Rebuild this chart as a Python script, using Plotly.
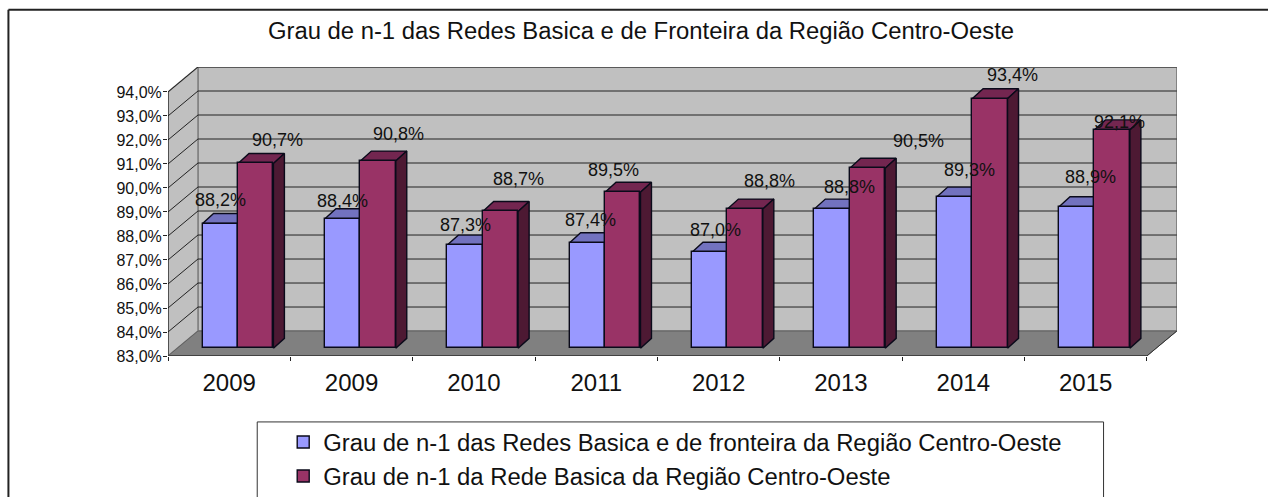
import plotly.graph_objects as go

categories = ["2009", "2009", "2010", "2011", "2012", "2013", "2014", "2015"]
series_a_name = "Grau de n-1 das Redes Basica e de fronteira da Região Centro-Oeste"
series_b_name = "Grau de n-1 da Rede Basica da Região Centro-Oeste"
series_a = [88.2, 88.4, 87.3, 87.4, 87.0, 88.8, 89.3, 88.9]
series_b = [90.7, 90.8, 88.7, 89.5, 88.8, 90.5, 93.4, 92.1]
y_ticks = list(range(83, 95))
y_tick_labels = [f"{v},0%" for v in y_ticks]

W, H = 1268, 497
PX_L, PX_B, PX_R, PX_T = 167.7, 356.0, 1177.5, 66.7
CAT_PX = (1147.3 - 167.7) / 8
PCT_PX = (356.0 - 91.7) / 11
DEPTH_X = 30.0 / CAT_PX
DEPTH_Y = 25.0 / PCT_PX
BAR_W = 0.2895
BAR_A_L = 0.2826
BAR_DX = 11.0 / CAT_PX
BAR_DY = 10.0 / PCT_PX
BASE_LIFT = 7.7 / PCT_PX
X0, X1, Y0, Y1 = 0, len(categories), y_ticks[0], y_ticks[-1]
XR = [0, (PX_R - PX_L) / CAT_PX]
YR = [Y0, Y0 + (PX_B - PX_T) / PCT_PX]

def px(v):
    return (v - PX_L) / (PX_R - PX_L)

def py(v):
    return (PX_B - v) / (PX_B - PX_T)

WALL = "#C0C0C0"; FLOOR = "#808080"; EDGE = "#808080"; GRID = "#222222"
A_FRONT, A_TOP = "#9999FF", "#7272BF"
B_FRONT, B_TOP, B_SIDE = "#993366", "#732650", "#4D1933"
OUT = "#0A0A1A"
FONT = "Liberation Sans, Arial, sans-serif"
TXT = "#111111"

fig = go.Figure()

def poly(xs, ys, fill, line=None, lw=1):
    fig.add_trace(go.Scatter(x=xs, y=ys, mode="lines", fill="toself", fillcolor=fill,
                             line=dict(color=line or fill, width=lw),
                             hoverinfo="skip", showlegend=False, xaxis="x", yaxis="y"))

def seg(xs, ys, color, lw=1):
    fig.add_trace(go.Scatter(x=xs, y=ys, mode="lines", line=dict(color=color, width=lw),
                             hoverinfo="skip", showlegend=False, xaxis="x", yaxis="y"))

# walls and floor
poly([DEPTH_X, X1 + DEPTH_X, X1 + DEPTH_X, DEPTH_X, DEPTH_X],
     [Y0 + DEPTH_Y, Y0 + DEPTH_Y, Y1 + DEPTH_Y, Y1 + DEPTH_Y, Y0 + DEPTH_Y], WALL, EDGE, 1.5)
poly([0, DEPTH_X, DEPTH_X, 0, 0], [Y0, Y0 + DEPTH_Y, Y1 + DEPTH_Y, Y1, Y0], WALL, EDGE, 1.5)
poly([0, X1, X1 + DEPTH_X, DEPTH_X, 0], [Y0, Y0, Y0 + DEPTH_Y, Y0 + DEPTH_Y, Y0], FLOOR, "#606060", 1)

# gridlines
for v in y_ticks[1:]:
    seg([0, DEPTH_X, X1 + DEPTH_X], [v, v + DEPTH_Y, v + DEPTH_Y], GRID, 1)
seg([X1, X1 + DEPTH_X], [Y0, Y0 + DEPTH_Y], "#333333", 1)
seg([0, 0], [Y0, Y1], "#111111", 1)
seg([0, X1], [Y0, Y0], "#333333", 1.5)

# depth faces of the bars (drawn on the lower axes pair)
base = Y0 + BASE_LIFT
for i, (a, b) in enumerate(zip(series_a, series_b)):
    ax = i + BAR_A_L
    bx = ax + BAR_W
    ex = bx + BAR_W
    ta, tb = a + BASE_LIFT, b + BASE_LIFT
    poly([ax, bx, bx + BAR_DX, ax + BAR_DX, ax], [ta, ta, ta + BAR_DY, ta + BAR_DY, ta], A_TOP, OUT, 1.4)
    poly([bx, ex, ex + BAR_DX, bx + BAR_DX, bx], [tb, tb, tb + BAR_DY, tb + BAR_DY, tb], B_TOP, OUT, 1.4)
    poly([ex, ex + BAR_DX, ex + BAR_DX, ex, ex], [base, base + BAR_DY, tb + BAR_DY, tb, base], B_SIDE, OUT, 1.4)

# front faces: true bars on an overlaying axes pair
xa = [i + BAR_A_L + BAR_W / 2 for i in range(len(categories))]
xb = [x + BAR_W for x in xa]
fig.add_trace(go.Bar(x=xa, y=[v - Y0 for v in series_a], base=base, width=BAR_W, name=series_a_name,
                     marker=dict(color=A_FRONT, line=dict(color=OUT, width=1.4)), legendgroup="a",
                     xaxis="x2", yaxis="y2", hoverinfo="skip"))
fig.add_trace(go.Bar(x=xb, y=[v - Y0 for v in series_b], base=base, width=BAR_W, name=series_b_name,
                     marker=dict(color=B_FRONT, line=dict(color=OUT, width=1.4)), legendgroup="b",
                     xaxis="x2", yaxis="y2", hoverinfo="skip"))

# data labels: pixel nudges from each bar's front top
a_nudge = [(0, -24), (0, -18), (1, -20), (3, -23), (6, -22), (17, -22), (15, -27), (14, -30)]
b_nudge = [(22, -23), (20, -27), (18, -32), (-9, -22), (24, -28), (51, -27), (23, -24), (7, -8)]
for xs, vals, nudges in ((xa, series_a, a_nudge), (xb, series_b, b_nudge)):
    for x, v, (dx, dy) in zip(xs, vals, nudges):
        fig.add_annotation(x=x, y=v + BASE_LIFT, xref="x2", yref="y2", text=f"{v:.1f}%".replace(".", ","),
                           showarrow=False, xshift=dx, yshift=-dy, xanchor="center", yanchor="middle",
                           font=dict(family=FONT, size=18, color=TXT))

fig.update_layout(
    width=W, height=H, autosize=False,
    margin=dict(l=PX_L, r=W - PX_R, t=PX_T, b=H - PX_B, pad=0, autoexpand=False),
    paper_bgcolor="white", plot_bgcolor="white", barmode="overlay", bargap=0,
    title=dict(text="Grau de n-1 das Redes Basica e de Fronteira da Região Centro-Oeste",
               x=641 / W, xanchor="center", y=1 - 31 / H, yanchor="middle",
               font=dict(family=FONT, size=23.85, color=TXT)),
    xaxis=dict(range=XR, showgrid=False, zeroline=False, showline=False,
               tickmode="array", tickvals=[i + 0.5 for i in range(len(categories))], ticktext=categories,
               ticks="", ticklabelstandoff=10, tickfont=dict(family=FONT, size=24, color=TXT),
               minor=dict(tickmode="array", tickvals=list(range(len(categories) + 1)), ticks="outside",
                          ticklen=4, tickwidth=1, tickcolor="#222222")),
    yaxis=dict(range=YR, showgrid=False, zeroline=False, showline=False,
               tickmode="array", tickvals=y_ticks, ticktext=y_tick_labels, ticks="outside",
               ticklen=4, tickwidth=1, tickcolor="#222222", ticklabelstandoff=-2,
               tickfont=dict(family=FONT, size=16, color=TXT)),
    xaxis2=dict(range=XR, overlaying="x", visible=False),
    yaxis2=dict(range=YR, overlaying="y", visible=False),
    legend=dict(x=px(283), y=py(420), xanchor="left", yanchor="top", xref="paper", yref="paper",
                bgcolor="rgba(0,0,0,0)", borderwidth=0, itemclick=False, itemdoubleclick=False,
                font=dict(family=FONT, size=23.85, color=TXT), tracegroupgap=0),
    showlegend=True,
    shapes=[
        dict(type="rect", xref="paper", yref="paper", x0=px(257), x1=px(1104), y0=py(520), y1=py(422),
             line=dict(color="#333333", width=1), fillcolor="white", layer="below"),
        dict(type="line", xref="paper", yref="paper", x0=px(8), x1=px(1280), y0=py(9.5), y1=py(9.5),
             line=dict(color="#222222", width=2)),
        dict(type="line", xref="paper", yref="paper", x0=px(8), x1=px(8), y0=py(9.5), y1=py(520),
             line=dict(color="#222222", width=2)),
    ],
)

fig.write_html("out.html", config={"displayModeBar": False},
               post_script="document.body.style.margin='0';document.documentElement.style.overflow='hidden';")
